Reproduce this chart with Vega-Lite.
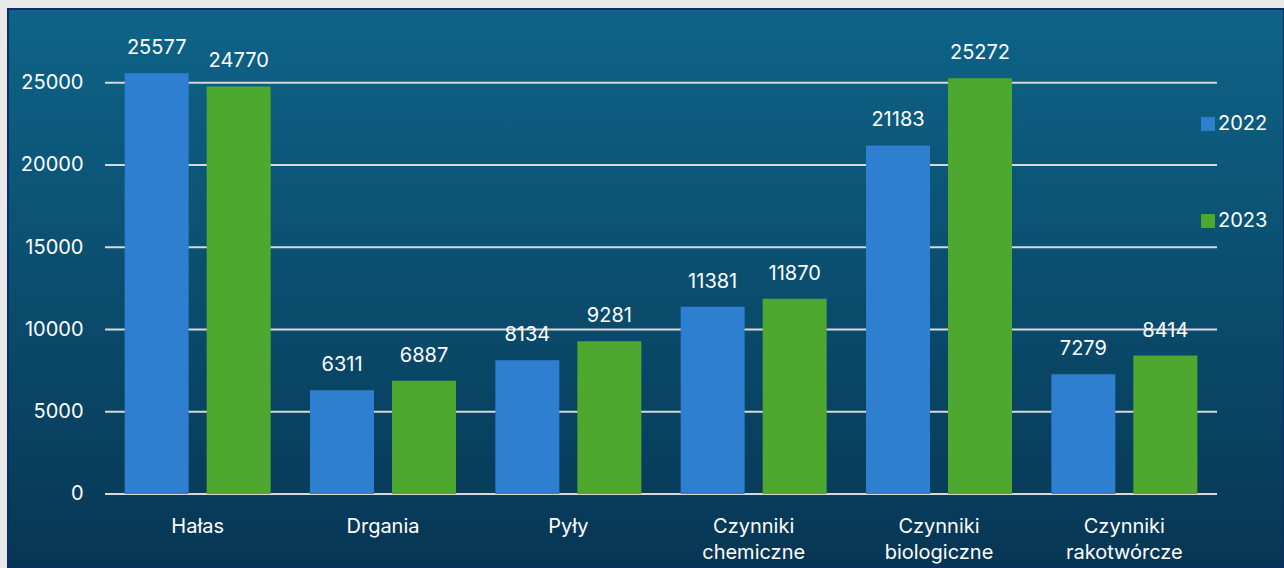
{
  "$schema": "https://vega.github.io/schema/vega-lite/v6.json",
  "width": 1276,
  "height": 559,
  "autosize": {"type": "none"},
  "padding": {"left": 8, "top": 9, "right": 0, "bottom": 0},
  "background": "#e8e8e8",
  "config": {
    "font": "Inter",
    "view": {
      "fill": {"gradient": "linear", "x1": 0, "y1": 0, "x2": 0, "y2": 1,
        "stops": [{"offset": 0, "color": "#0e6488"}, {"offset": 1, "color": "#073654"}]},
      "stroke": "#0c2d6b",
      "strokeWidth": 2
    }
  },
  "datasets": {
    "main": [
      {"category": "Hałas", "year": "2022", "value": 25577},
      {"category": "Hałas", "year": "2023", "value": 24770},
      {"category": "Drgania", "year": "2022", "value": 6311},
      {"category": "Drgania", "year": "2023", "value": 6887},
      {"category": "Pyły", "year": "2022", "value": 8134},
      {"category": "Pyły", "year": "2023", "value": 9281},
      {"category": "Czynniki chemiczne", "year": "2022", "value": 11381},
      {"category": "Czynniki chemiczne", "year": "2023", "value": 11870},
      {"category": "Czynniki biologiczne", "year": "2022", "value": 21183},
      {"category": "Czynniki biologiczne", "year": "2023", "value": 25272},
      {"category": "Czynniki rakotwórcze", "year": "2022", "value": 7279},
      {"category": "Czynniki rakotwórcze", "year": "2023", "value": 8414}
    ],
    "grid": [{"v": 0}, {"v": 5000}, {"v": 10000}, {"v": 15000}, {"v": 20000}, {"v": 25000}]
  },
  "layer": [
    {
      "data": {"name": "grid"},
      "mark": {"type": "rule", "color": "#d9d9d9", "strokeWidth": 2},
      "encoding": {
        "y": {"field": "v", "type": "quantitative"},
        "x": {"datum": "Hałas", "type": "nominal", "bandPosition": 0, "scale": {"type": "band"}},
        "x2": {"datum": "Czynniki rakotwórcze", "bandPosition": 1}
      }
    },
    {
      "data": {"name": "main"},
      "mark": {"type": "bar"},
      "encoding": {
        "x": {
          "field": "category", "type": "nominal",
          "scale": {"type": "band", "domain": ["Hałas", "Drgania", "Pyły", "Czynniki chemiczne", "Czynniki biologiczne", "Czynniki rakotwórcze"], "paddingInner": 0, "paddingOuter": 0.4425, "align": 0.5915},
          "axis": {"orient": "bottom", "offset": -74, "title": null, "domain": false, "ticks": false, "labelAngle": 0, "labelAlign": "center", "bandPosition": 0.5, "labelExpr": "split(datum.label, ' ')", "labelBaseline": "top", "labelPadding": 22, "labelLineHeight": 26, "labelFontSize": 20, "labelColor": "#ffffff", "labelFont": "Inter", "labelLimit": 400}
        },
        "xOffset": {"field": "year", "type": "nominal", "scale": {"paddingInner": 0.2195, "paddingOuter": 0.2398}},
        "y": {
          "field": "value", "type": "quantitative",
          "scale": {"domain": [-4500, 29480], "nice": false, "zero": false},
          "axis": {"orient": "left", "offset": -97, "title": null, "values": [0, 5000, 10000, 15000, 20000, 25000], "format": "d", "domain": false, "ticks": false, "grid": false, "labelPadding": 22, "labelFontSize": 20, "labelColor": "#ffffff", "labelFont": "Inter"}
        },
        "color": {
          "field": "year", "type": "nominal",
          "scale": {"domain": ["2022", "2023"], "range": ["#2e7fd0", "#4ea72e"]},
          "legend": {"orient": "none", "legendX": 1190, "legendY": 105, "title": null, "padding": 0, "labelFontSize": 20, "labelColor": "#ffffff", "labelFont": "Inter", "symbolType": "square", "symbolSize": 196, "symbolStrokeWidth": 0, "rowPadding": 77, "labelOffset": 0}
        }
      }
    },
    {
      "data": {"name": "main"},
      "mark": {"type": "text", "baseline": "alphabetic", "align": "center", "dy": -19, "fontSize": 20, "color": "#ffffff", "font": "Inter"},
      "encoding": {
        "x": {"field": "category", "type": "nominal"},
        "xOffset": {"field": "year", "type": "nominal"},
        "y": {"field": "value", "type": "quantitative"},
        "text": {"field": "value", "type": "quantitative", "format": "d"}
      }
    }
  ]
}
